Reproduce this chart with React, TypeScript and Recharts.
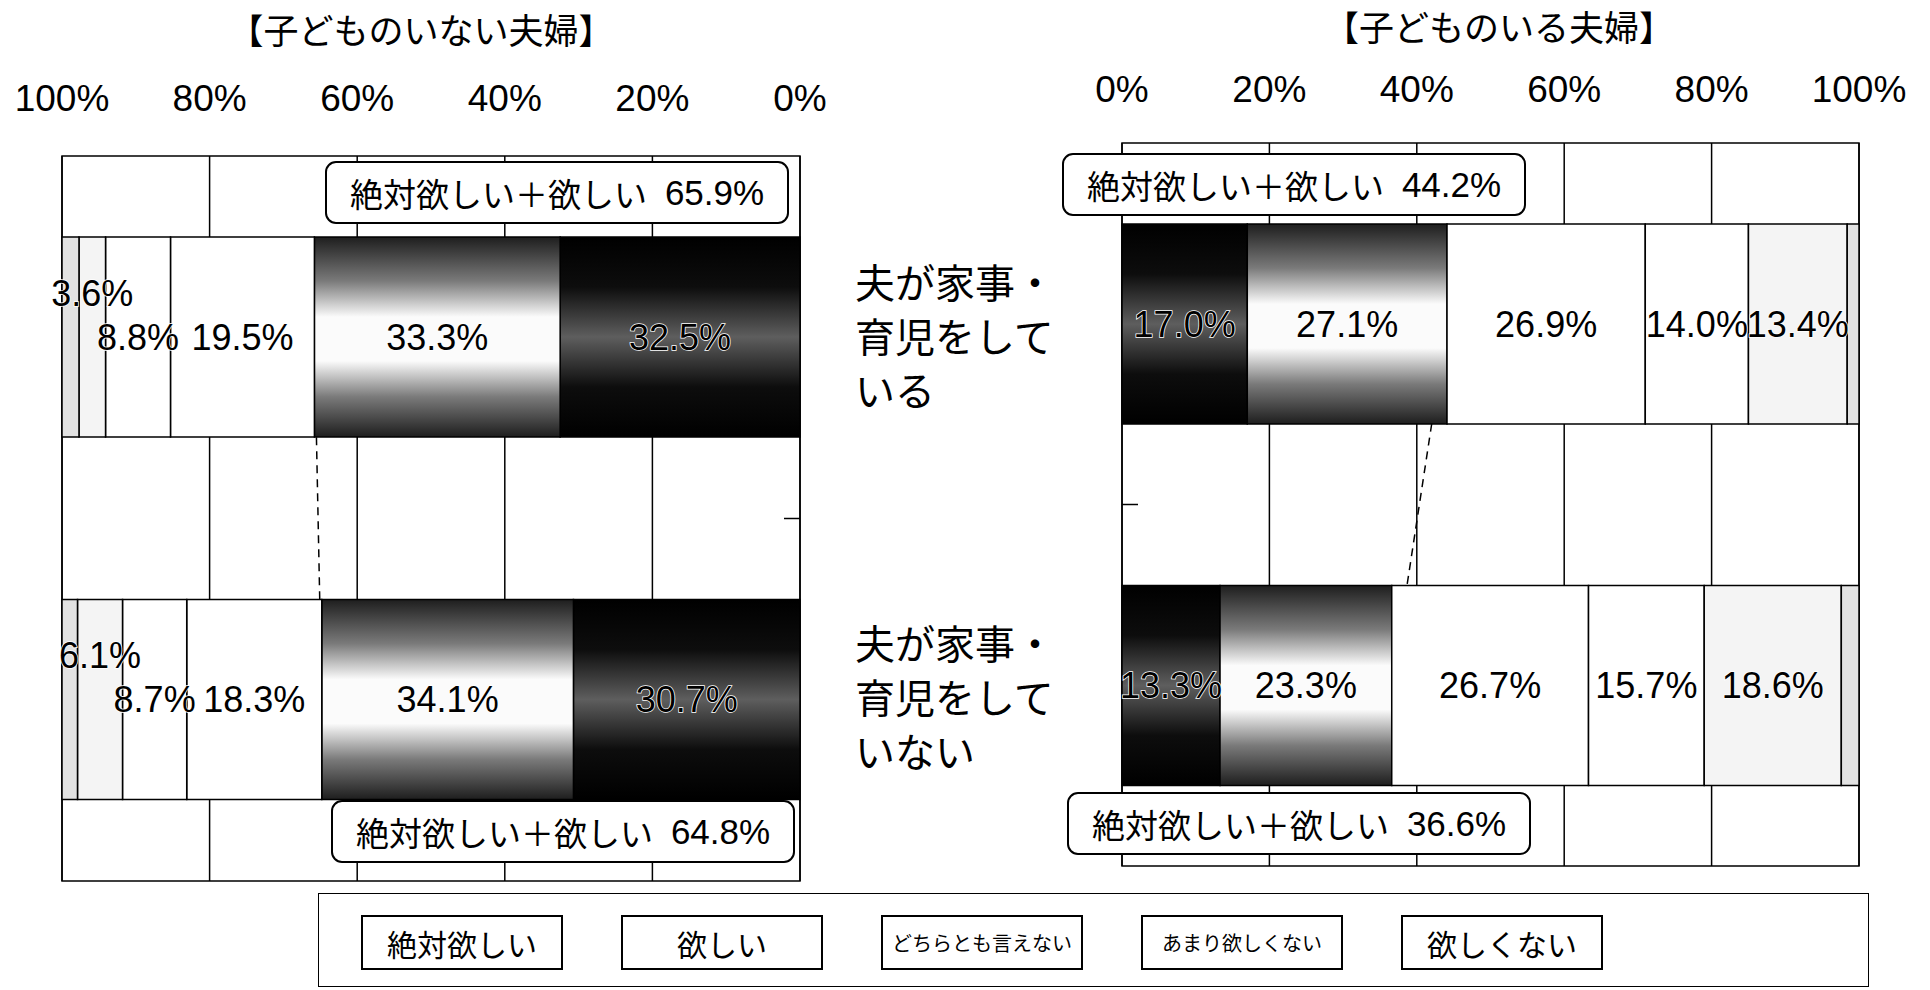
import React from "react";
import {
  BarChart,
  Bar,
  XAxis,
  YAxis,
  CartesianGrid,
  LabelList,
  ReferenceLine,
  ReferenceArea,
} from "recharts";

const categories = ["夫が家事・育児をしている", "夫が家事・育児をしていない"];
const seriesNames = ["絶対欲しい", "欲しい", "どちらとも言えない", "あまり欲しくない", "欲しくない", "不詳"];
const ticks = [0, 20, 40, 60, 80, 100];

// 子どものいない夫婦
const noKidAbsolutely = [32.5, 30.7];
const noKidWant = [33.3, 34.1];
const noKidNeither = [19.5, 18.3];
const noKidNotMuch = [8.8, 8.7];
const noKidNot = [3.6, 6.1];
const noKidUnknown = [2.3, 2.1];
const noKidTotal = [65.9, 64.8];

// 子どものいる夫婦
const kidAbsolutely = [17.0, 13.3];
const kidWant = [27.1, 23.3];
const kidNeither = [26.9, 26.7];
const kidNotMuch = [14.0, 15.7];
const kidNot = [13.4, 18.6];
const kidUnknown = [1.6, 2.4];
const kidTotal = [44.2, 36.6];

const keys = ["k0", "k1", "k2", "k3", "k4", "k5"];

const buildRows = (series: number[][]) =>
  categories.map((name, i) => {
    const row: any = { name };
    series.forEach((s, j) => (row[keys[j]] = s[i]));
    return row;
  });

const noKidRows = buildRows([noKidAbsolutely, noKidWant, noKidNeither, noKidNotMuch, noKidNot, noKidUnknown]);
const kidRows = buildRows([kidAbsolutely, kidWant, kidNeither, kidNotMuch, kidNot, kidUnknown]);

const NUM_FONT = '"Liberation Sans", Arial, "Noto Sans CJK JP", sans-serif';
const JP_FONT = '"Noto Sans CJK JP", "Liberation Sans", sans-serif';
const BAR = 200;
const AXIS_H = 60;

function StackChart(props: any) {
  const { id, rows, reversed, width, height, margin, tickLift, notDy, side, lines } = props;
  const plotH = height - margin.top - margin.bottom - AXIS_H;
  const band = plotH / categories.length;
  const fills = [`url(#${id}abs)`, `url(#${id}want)`, "#fff", "#fff", "#f4f4f4", "#e2e2e2"];
  const link0 = rows[0].k0 + rows[0].k1;
  const link1 = rows[1].k0 + rows[1].k1;

  const pctTick = (p: any) => (
    <text
      x={p.x}
      y={p.y - tickLift}
      textAnchor="middle"
      dominantBaseline="central"
      fontSize={37}
      fontFamily={NUM_FONT}
      fill="#000"
    >
      {p.payload.value}%
    </text>
  );

  const catTick = (p: any) => {
    const mid = p.y + band / 2;
    const inner = side === "left" ? 16 : -16;
    return (
      <g>
        {p.index === 0 && (
          <line x1={p.x} x2={p.x + inner} y1={mid} y2={mid} stroke="#000" strokeWidth={1.5} />
        )}
        {lines &&
          (String(p.payload.value).match(/.{1,5}/g) || []).map((t: string, k: number, all: string[]) => (
            <text
              key={k}
              x={p.x - 267}
              y={p.y + 11 + (k - (all.length - 1) / 2) * 54}
              dominantBaseline="central"
              fontSize={40}
              fontFamily={JP_FONT}
              fill="#000"
            >
              {t}
            </text>
          ))}
      </g>
    );
  };

  const label = (dy: number) => (p: any) => {
    const vb = p.viewBox || p;
    const cx = vb.x + vb.width / 2;
    const cy = vb.y + vb.height / 2 + dy;
    return (
      <text
        x={cx}
        y={cy}
        textAnchor="middle"
        dominantBaseline="central"
        fontSize={36}
        fontFamily={NUM_FONT}
        fill="#000"
        stroke="#fff"
        strokeWidth={1.5}
        paintOrder="stroke"
      >
        {Number(p.value).toFixed(1)}%
      </text>
    );
  };

  const dashed = (p: any) => {
    const { x1, y1, x2, y2 } = p;
    if ([x1, y1, x2, y2].some((v) => typeof v !== "number")) return <g />;
    const t = BAR / 2 / (y2 - y1);
    return (
      <line
        x1={x1 + (x2 - x1) * t}
        y1={y1 + BAR / 2}
        x2={x2 - (x2 - x1) * t}
        y2={y2 - BAR / 2}
        stroke="#000"
        strokeWidth={1.5}
        strokeDasharray="8 6"
      />
    );
  };

  return (
    <BarChart width={width} height={height} data={rows} layout="vertical" margin={margin} barSize={BAR}>
      <defs>
        <linearGradient id={`${id}abs`} x1="0" y1="0" x2="0" y2="1">
          <stop offset="0" stopColor="#000" />
          <stop offset="0.25" stopColor="#0d0d0d" />
          <stop offset="0.5" stopColor="#5e5e5e" />
          <stop offset="0.75" stopColor="#0d0d0d" />
          <stop offset="1" stopColor="#000" />
        </linearGradient>
        <linearGradient id={`${id}want`} x1="0" y1="0" x2="0" y2="1">
          <stop offset="0" stopColor="#1e1e1e" />
          <stop offset="0.22" stopColor="#7a7a7a" />
          <stop offset="0.4" stopColor="#fbfbfb" />
          <stop offset="0.62" stopColor="#fbfbfb" />
          <stop offset="0.8" stopColor="#7a7a7a" />
          <stop offset="1" stopColor="#1e1e1e" />
        </linearGradient>
      </defs>
      <CartesianGrid horizontal={false} stroke="#000" strokeWidth={1.5} />
      <XAxis
        type="number"
        orientation="top"
        domain={[0, 100]}
        ticks={ticks}
        interval={0}
        reversed={reversed}
        height={AXIS_H}
        axisLine={false}
        tickLine={false}
        tickSize={0}
        tickMargin={0}
        tick={pctTick}
      />
      <YAxis
        type="category"
        dataKey="name"
        orientation={side}
        width={side === "left" ? 292 : 1}
        axisLine={false}
        tickLine={false}
        tickSize={0}
        tickMargin={0}
        interval={0}
        tick={catTick}
      />
      {keys.map((k, i) => (
        <Bar
          key={k}
          dataKey={k}
          name={seriesNames[i]}
          stackId="a"
          fill={fills[i]}
          stroke="#000"
          strokeWidth={1.5}
          isAnimationActive={false}
        >
          {i < 5 && <LabelList dataKey={k} content={label(i === 4 ? notDy : 0)} />}
        </Bar>
      ))}
      <ReferenceArea x1={0} x2={100} fill="none" fillOpacity={0} stroke="#000" strokeWidth={1.5} ifOverflow="visible" />
      <ReferenceLine
        segment={[
          { x: link0, y: categories[0] },
          { x: link1, y: categories[1] },
        ]}
        ifOverflow="visible"
        shape={dashed}
      />
    </BarChart>
  );
}

const boxStyle: React.CSSProperties = {
  position: "absolute",
  boxSizing: "border-box",
  border: "2px solid #000",
  borderRadius: 11,
  background: "#fff",
  display: "flex",
  alignItems: "center",
  justifyContent: "center",
  fontSize: 33,
  whiteSpace: "pre",
};

function TotalBox({ left, top, value }: { left: number; top: number; value: number }) {
  return (
    <div style={{ ...boxStyle, left, top, width: 464, height: 63 }}>
      <span style={{ fontFamily: JP_FONT }}>絶対欲しい＋欲しい</span>
      <span style={{ fontFamily: NUM_FONT, marginLeft: 18, fontSize: 35 }}>{value.toFixed(1)}%</span>
    </div>
  );
}

export default function App() {
  return (
    <div
      style={{
        position: "absolute",
        left: 0,
        top: 0,
        width: 1930,
        height: 990,
        overflow: "hidden",
        background: "#fff",
        fontFamily: JP_FONT,
        color: "#000",
      }}
    >
      <div style={{ position: "absolute", left: 0, top: 0 }}>
        <StackChart
          id="nk"
          rows={noKidRows}
          reversed
          width={830}
          height={990}
          margin={{ top: 96, right: 29, bottom: 109, left: 62 }}
          tickLift={58}
          notDy={-44}
          side="right"
          lines={false}
        />
      </div>
      <div style={{ position: "absolute", left: 830, top: 0 }}>
        <StackChart
          id="k"
          rows={kidRows}
          reversed={false}
          width={1100}
          height={990}
          margin={{ top: 83, right: 71, bottom: 124, left: 0 }}
          tickLift={54}
          notDy={0}
          side="left"
          lines
        />
      </div>

      <div
        style={{
          position: "absolute",
          left: 421,
          top: 29,
          transform: "translate(-50%, -50%)",
          fontSize: 35,
          lineHeight: "40px",
          whiteSpace: "nowrap",
        }}
      >
        【子どものいない夫婦】
      </div>
      <div
        style={{
          position: "absolute",
          left: 1499,
          top: 26,
          transform: "translate(-50%, -50%)",
          fontSize: 35,
          lineHeight: "40px",
          whiteSpace: "nowrap",
        }}
      >
        【子どものいる夫婦】
      </div>

      <TotalBox left={325} top={161} value={noKidTotal[0]} />
      <TotalBox left={331} top={800} value={noKidTotal[1]} />
      <TotalBox left={1062} top={153} value={kidTotal[0]} />
      <TotalBox left={1067} top={792} value={kidTotal[1]} />

      <div
        style={{
          position: "absolute",
          left: 318,
          top: 893,
          width: 1551,
          height: 94,
          boxSizing: "border-box",
          border: "1.5px solid #000",
        }}
      >
        <div style={{ display: "flex", gap: 58, paddingLeft: 42, paddingTop: 21 }}>
          {seriesNames.slice(0, 5).map((n) => (
            <div
              key={n}
              style={{
                width: 202,
                height: 55,
                boxSizing: "border-box",
                border: "2px solid #000",
                display: "flex",
                alignItems: "center",
                justifyContent: "center",
                fontSize: n.length > 5 ? 20 : 30,
                whiteSpace: "nowrap",
              }}
            >
              {n}
            </div>
          ))}
        </div>
      </div>
    </div>
  );
}
